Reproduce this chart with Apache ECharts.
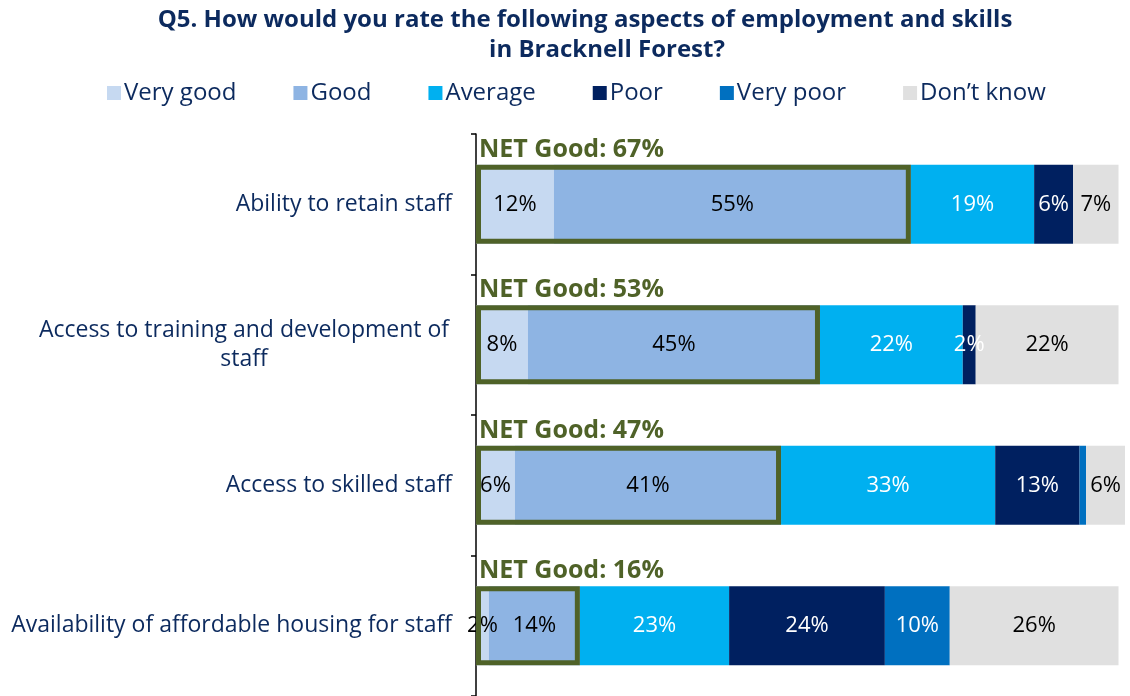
<!DOCTYPE html>
<html>
<head>
<meta charset="utf-8">
<script src="https://cdn.jsdelivr.net/npm/echarts@6/dist/echarts.min.js"></script>
<style>
  html, body { margin: 0; padding: 0; background: #ffffff; }
  #chart { width: 1130px; height: 696px; }
</style>
</head>
<body>
<div id="chart"></div>
<script>
// Aspects rated (top to bottom)
const categories = [
  'Ability to retain staff',
  'Access to training and development of\nstaff',
  'Access to skilled staff',
  'Availability of affordable housing for staff'
];

// Share of respondents per rating, in %
const veryGood = [12, 8, 6, 2];
const good     = [55, 45, 41, 14];
const average  = [19, 22, 33, 23];
const poor     = [6, 2, 13, 24];
const veryPoor = [0, 0, 1, 10];
const dontKnow = [7, 22, 6, 26];

const ratingNames = ['Very good', 'Good', 'Average', 'Poor', 'Very poor', 'Don\u2019t know'];
const ratingColors = ['#c6d9f1', '#8eb4e3', '#00b0f0', '#002060', '#0070c0', '#e0e0e0'];
const labelColors = ['#000000', '#000000', '#ffffff', '#ffffff', '#ffffff', '#000000'];
const ratingValues = [veryGood, good, average, poor, veryPoor, dontKnow];

// NET Good = Very good + Good
const netGood = veryGood.map((v, i) => v + good[i]);

const FONT = '"Open Sans", Lato, sans-serif';
const NAVY = '#0c2a5e';
const OLIVE = '#4f6228';
const BAR_W = 79;

const stackSeries = ratingNames.map((name, k) => ({
  name: name,
  type: 'bar',
  stack: 'rating',
  barWidth: BAR_W,
  barGap: '-100%',
  data: ratingValues[k],
  itemStyle: { color: ratingColors[k] },
  label: {
    show: true,
    position: 'inside',
    fontFamily: FONT,
    fontSize: 22,
    color: labelColors[k],
    formatter: p => (p.value >= 2 ? p.value + '%' : '')
  },
  emphasis: { disabled: true }
}));

const netSeries = {
  name: 'NET Good',
  type: 'bar',
  barWidth: BAR_W,
  barGap: '-100%',
  data: netGood,
  z: 5,
  silent: true,
  itemStyle: { color: 'rgba(0,0,0,0)', borderColor: OLIVE, borderWidth: 5 },
  label: {
    show: true,
    position: [3, -15],
    align: 'left',
    verticalAlign: 'middle',
    fontFamily: FONT,
    fontWeight: 'bold',
    fontSize: 25,
    color: OLIVE,
    formatter: p => 'NET Good: ' + p.value + '%'
  },
  emphasis: { disabled: true }
};

const chart = echarts.init(document.getElementById('chart'), null, { renderer: 'canvas' });

chart.setOption({
  backgroundColor: '#ffffff',
  animation: false,
  title: [
    {
      text: 'Q5. How would you rate the following aspects of employment and skills',
      left: 580, top: 3, textAlign: 'center',
      textStyle: { fontFamily: FONT, fontWeight: 'bold', fontSize: 24, color: NAVY }
    },
    {
      text: 'in Bracknell Forest?',
      left: 602, top: 33, textAlign: 'center',
      textStyle: { fontFamily: FONT, fontWeight: 'bold', fontSize: 24, color: NAVY }
    }
  ],
  legend: {
    data: ratingNames,
    left: 102, top: 76,
    icon: 'rect',
    itemWidth: 14, itemHeight: 14,
    itemGap: 57,
    textStyle: { fontFamily: FONT, fontSize: 24, color: NAVY, padding: [0, 0, 0, -2] },
    selectedMode: false
  },
  grid: { left: 476, right: 5, top: 134, bottom: -5, containLabel: false },
  xAxis: {
    type: 'value', min: 0, max: 100, show: false
  },
  yAxis: {
    type: 'category',
    data: categories,
    inverse: true,
    offset: 6,
    axisLine: { show: true, lineStyle: { color: '#000000', width: 1.5 } },
    axisTick: { show: true, length: 5, lineStyle: { color: '#000000', width: 1.5 } },
    axisLabel: {
      margin: 18,
      fontFamily: FONT,
      fontSize: 23,
      color: NAVY,
      lineHeight: 29,
      formatter: v => v.indexOf('\n') >= 0 ? '{c|' + v + '}' : v,
      rich: {
        c: { width: 416, align: 'center', fontFamily: FONT, fontSize: 23, color: NAVY, lineHeight: 29 }
      }
    }
  },
  series: stackSeries.concat([netSeries])
});
</script>
</body>
</html>
